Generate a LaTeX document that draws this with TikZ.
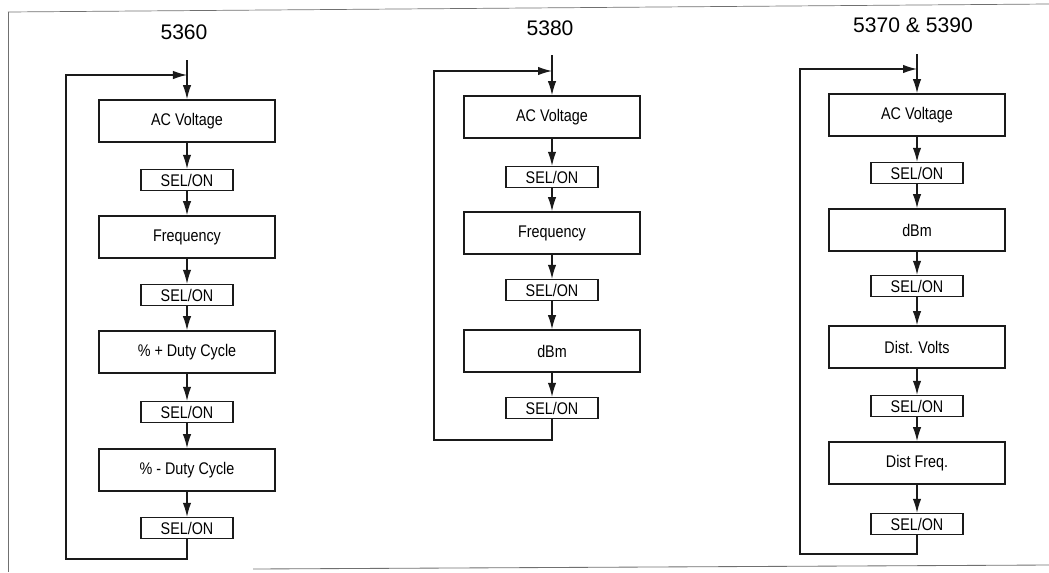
\documentclass[tikz,border=0pt]{standalone}
\usepackage{fontspec}
\setmainfont{Liberation Sans}
\newfontfamily\narrowfont[FakeStretch=0.85]{Liberation Sans}
\usepackage{tikz}
\usetikzlibrary{arrows.meta}
\definecolor{ScanInk}{HTML}{1A1A1A}
\definecolor{ScanFrame}{HTML}{707070}

\tikzset{
  funcbox/.style={draw=ScanInk, line width=1.2pt, minimum width=4.4cm, minimum height=1.05cm,
    inner sep=0pt, font=\narrowfont\fontsize{12}{14}\selectfont},
  selbox/.style={draw=ScanInk, line width=1.1pt, minimum width=2.3cm, minimum height=0.52cm,
    inner sep=0pt, font=\narrowfont\fontsize{12}{14}\selectfont},
  flow/.style={draw=ScanInk, line width=0.8pt, -{Latex[length=3.5mm,width=2.1mm]}},
  title/.style={font=\fontsize{15}{18}\selectfont}
}

\begin{document}
\begin{tikzpicture}[x=0.025cm, y=-0.025cm]
  \useasboundingbox (0,0) rectangle (1049,572);

  %% Scanned page frame
  \draw[ScanFrame, line width=0.5pt] (8,12) -- (1049,4);
  \draw[ScanFrame, line width=0.5pt] (8,12) -- (8,572);
  \draw[ScanFrame, line width=0.6pt] (253,569) -- (1049,565);

  %% 5360
  \node[title] (t1) at (184,32) {5360};
  \coordinate (in1) at (187,60);
  \coordinate (j1) at (187,75);
  \coordinate (lb1) at (66,559);
  \node[funcbox] (ac1) at (187,121) {AC Voltage};
  \node[selbox]  (sa1) at (187,180) {SEL/ON};
  \node[funcbox] (fr1) at (187,237) {Frequency};
  \node[selbox]  (sb1) at (187,295) {SEL/ON};
  \node[funcbox] (dp1) at (187,352) {\% + Duty Cycle};
  \node[selbox]  (sc1) at (187,412) {SEL/ON};
  \node[funcbox] (dn1) at (187,470) {\% - Duty Cycle};
  \node[selbox]  (sd1) at (187,528) {SEL/ON};
  \draw[flow] (in1) -- (ac1.north);
  \foreach \a/\b in {ac1/sa1, sa1/fr1, fr1/sb1, sb1/dp1, dp1/sc1, sc1/dn1, dn1/sd1}
    \draw[flow] (\a.south) -- (\b.north);
  \draw[flow] (sd1.south) |- (lb1) |- (j1);

  %% 5380
  \node[title] (t2) at (550,28) {5380};
  \coordinate (in2) at (552,55);
  \coordinate (j2) at (552,71);
  \coordinate (lb2) at (434,440);
  \node[funcbox] (ac2) at (552,117) {AC Voltage};
  \node[selbox]  (sa2) at (552,177) {SEL/ON};
  \node[funcbox] (fr2) at (552,233) {Frequency};
  \node[selbox]  (sb2) at (552,290) {SEL/ON};
  \node[funcbox] (db2) at (552,351) {dBm};
  \node[selbox]  (sc2) at (552,408) {SEL/ON};
  \draw[flow] (in2) -- (ac2.north);
  \foreach \a/\b in {ac2/sa2, sa2/fr2, fr2/sb2, sb2/db2, db2/sc2}
    \draw[flow] (\a.south) -- (\b.north);
  \draw[flow] (sc2.south) |- (lb2) |- (j2);

  %% 5370 & 5390
  \node[title] (t3) at (913,25) {5370 \& 5390};
  \coordinate (in3) at (917,54);
  \coordinate (j3) at (917,69);
  \coordinate (lb3) at (800,554);
  \node[funcbox] (ac3) at (917,115) {AC Voltage};
  \node[selbox]  (sa3) at (917,173) {SEL/ON};
  \node[funcbox] (db3) at (917,230) {dBm};
  \node[selbox]  (sb3) at (917,286) {SEL/ON};
  \node[funcbox] (dv3) at (917,347) {Dist. Volts};
  \node[selbox]  (sc3) at (917,406) {SEL/ON};
  \node[funcbox] (df3) at (917,463) {Dist Freq.};
  \node[selbox]  (sd3) at (917,524) {SEL/ON};
  \draw[flow] (in3) -- (ac3.north);
  \foreach \a/\b in {ac3/sa3, sa3/db3, db3/sb3, sb3/dv3, dv3/sc3, sc3/df3, df3/sd3}
    \draw[flow] (\a.south) -- (\b.north);
  \draw[flow] (sd3.south) |- (lb3) |- (j3);
\end{tikzpicture}
\end{document}
